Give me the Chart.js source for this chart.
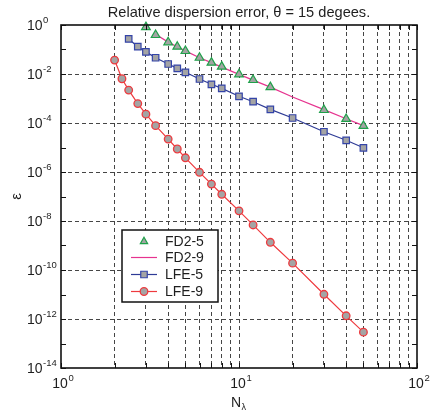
<!DOCTYPE html>
<html>
<head>
<meta charset="utf-8">
<title>Relative dispersion error</title>
<script src="https://cdn.jsdelivr.net/npm/chart.js@4.4.0/dist/chart.umd.min.js"></script>
<style>
    html, body { margin: 0; padding: 0; background: #fff; }
    #errChart { display: block; }
</style>
</head>
<body>
<canvas id="errChart" width="433" height="415"></canvas>
<script>
// Points per wavelength and dispersion error for each scheme
const nFD25 = [3, 3.4, 4, 4.5, 5, 6, 7, 8, 10, 12, 15, 30, 40, 50];
const errFD25 = [0.82, 0.39, 0.197, 0.13, 0.087, 0.046, 0.029, 0.02, 0.0097, 0.0057, 0.0029, 3.4e-4, 1.46e-4, 7.6e-5];

const nFD29 = [3.4, 4, 4.5, 5, 6, 7, 8, 10, 12, 15, 20, 30, 40, 50];
const errFD29 = [0.42, 0.2, 0.13, 0.088, 0.046, 0.029, 0.019, 0.0097, 0.0056, 0.0029, 1.15e-3, 3.5e-4, 1.5e-4, 7.8e-5];

const nLFE5 = [2.4, 2.7, 3, 3.4, 4, 4.5, 5, 6, 7, 8, 10, 12, 15, 20, 30, 40, 50];
const errLFE5 = [0.27, 0.13, 0.08, 0.046, 0.0256, 0.017, 0.0117, 0.00625, 0.0038, 0.0026, 0.00123, 7.4e-4, 3.6e-4, 1.6e-4, 4.4e-5, 1.97e-5, 9.7e-6];

const nLFE9 = [2, 2.2, 2.4, 2.7, 3, 3.4, 4, 4.5, 5, 6, 7, 8, 10, 12, 15, 20, 30, 40, 50];
const errLFE9 = [0.037, 0.0064, 0.0022, 6.2e-4, 2.3e-4, 7.8e-5, 2.2e-5, 8.7e-6, 3.8e-6, 9.7e-7, 3.2e-7, 1.23e-7, 2.6e-8, 6.9e-9, 1.35e-9, 1.9e-10, 1.02e-11, 1.35e-12, 2.9e-13];

const xTickVals = [1, 2, 3, 4, 5, 6, 7, 8, 9, 10, 20, 30, 40, 50, 60, 70, 80, 90, 100];
const yExponents = [0, -1, -2, -3, -4, -5, -6, -7, -8, -9, -10, -11, -12, -13, -14];
const yLabelExps = [0, -2, -4, -6, -8, -10, -12, -14];
const xLabelExps = [0, 1, 2];

const titleText = 'Relative dispersion error, \u03B8 = 15 degees.';
const FONT = '"Liberation Sans", Arial, Helvetica, sans-serif';
const GRAY_FILL = '#a4a4a4';
const TEXT_COLOR = '#1e1e1e';

function pairs(xs, ys) {
    return xs.map((x, i) => ({ x: x, y: ys[i] }));
}

const datasets = [
    {
        label: 'FD2-5',
        data: pairs(nFD25, errFD25),
        showLine: false,
        pointStyle: 'triangle',
        pointRadius: 5,
        pointBorderWidth: 1.2,
        borderColor: '#1fa14a',
        pointBorderColor: '#1fa14a',
        pointBackgroundColor: GRAY_FILL,
        clip: false
    },
    {
        label: 'FD2-9',
        data: pairs(nFD29, errFD29),
        borderColor: '#e6338f',
        borderWidth: 1.2,
        pointRadius: 0,
        clip: false
    },
    {
        label: 'LFE-5',
        data: pairs(nLFE5, errLFE5),
        borderColor: '#2e3b96',
        borderWidth: 1.2,
        pointStyle: 'rect',
        pointRadius: 4.6,
        pointBorderWidth: 1.2,
        pointBorderColor: '#3444a8',
        pointBackgroundColor: GRAY_FILL,
        clip: false
    },
    {
        label: 'LFE-9',
        data: pairs(nLFE9, errLFE9),
        borderColor: '#ee3a3e',
        borderWidth: 1.2,
        pointStyle: 'circle',
        pointRadius: 3.8,
        pointBorderWidth: 1.3,
        pointBorderColor: '#ee3a3e',
        pointBackgroundColor: GRAY_FILL,
        clip: false
    }
];

// "10" with a raised exponent, left edge at x
function drawPow(ctx, exp, x, baseline) {
    ctx.textAlign = 'left';
    ctx.textBaseline = 'alphabetic';
    ctx.font = '14px ' + FONT;
    const w = ctx.measureText('10').width;
    ctx.fillText('10', x, baseline);
    ctx.font = '9.5px ' + FONT;
    ctx.fillText(String(exp), x + w + 0.5, baseline - 7);
    return w;
}

function powWidth(ctx, exp) {
    ctx.font = '14px ' + FONT;
    const w = ctx.measureText('10').width;
    ctx.font = '9.5px ' + FONT;
    return w + 0.5 + ctx.measureText(String(exp)).width;
}

const decorPlugin = {
    id: 'decor',
    afterDatasetsDraw(chart) {
        const ctx = chart.ctx;
        const area = chart.chartArea;
        const xs = chart.scales.x;
        const ys = chart.scales.y;
        ctx.save();

        // frame with inward ticks
        ctx.strokeStyle = '#111';
        ctx.lineWidth = 1;
        ctx.beginPath();
        xTickVals.forEach(v => {
            const px = Math.round(xs.getPixelForValue(v)) + 0.5;
            ctx.moveTo(px, area.bottom);
            ctx.lineTo(px, area.bottom - 5);
            ctx.moveTo(px, area.top);
            ctx.lineTo(px, area.top + 5);
        });
        yExponents.forEach(e => {
            const py = Math.round(ys.getPixelForValue(Math.pow(10, e))) + 0.5;
            ctx.moveTo(area.left, py);
            ctx.lineTo(area.left + 5, py);
            ctx.moveTo(area.right, py);
            ctx.lineTo(area.right - 5, py);
        });
        ctx.stroke();
        ctx.lineWidth = 1.6;
        ctx.strokeRect(area.left, area.top, area.right - area.left, area.bottom - area.top);

        // tick labels
        ctx.fillStyle = TEXT_COLOR;
        yLabelExps.forEach(e => {
            const py = ys.getPixelForValue(Math.pow(10, e));
            drawPow(ctx, e, 27, py + 5);
        });
        xLabelExps.forEach(e => {
            const px = xs.getPixelForValue(Math.pow(10, e));
            const w = powWidth(ctx, e);
            drawPow(ctx, e, px - w / 2 + 2, 388);
        });

        // axis titles
        const cx = (area.left + area.right) / 2;
        ctx.font = '14px ' + FONT;
        ctx.textAlign = 'left';
        const nW = ctx.measureText('N').width;
        ctx.fillText('N', cx - nW / 2 - 3, 407);
        ctx.font = '9px ' + FONT;
        ctx.fillText('\u03BB', cx + nW / 2 - 2.5, 410);

        ctx.save();
        ctx.translate(17, (area.top + area.bottom) / 2);
        ctx.rotate(-Math.PI / 2);
        ctx.font = '15px ' + FONT;
        ctx.textAlign = 'center';
        ctx.textBaseline = 'middle';
        ctx.fillText('\u03B5', 0, 0);
        ctx.restore();

        // title
        ctx.font = '14.6px ' + FONT;
        ctx.textAlign = 'center';
        ctx.textBaseline = 'alphabetic';
        ctx.fillText(titleText, cx, 17);

        // legend box
        const bx = 122, by = 230, bw = 96, bh = 72;
        ctx.fillStyle = '#fff';
        ctx.fillRect(bx, by, bw, bh);
        ctx.strokeStyle = '#111';
        ctx.lineWidth = 1.5;
        ctx.strokeRect(bx, by, bw, bh);
        const rows = [241.5, 257.5, 274.5, 291.5];
        chart.data.datasets.forEach((ds, i) => {
            const y = rows[i];
            if (ds.showLine !== false) {
                ctx.strokeStyle = ds.borderColor;
                ctx.lineWidth = ds.borderWidth;
                ctx.beginPath();
                ctx.moveTo(131, y);
                ctx.lineTo(157, y);
                ctx.stroke();
            }
            if (ds.pointRadius > 0) {
                ctx.fillStyle = ds.pointBackgroundColor;
                ctx.strokeStyle = ds.pointBorderColor;
                ctx.lineWidth = ds.pointBorderWidth;
                Chart.helpers.drawPoint(ctx, {
                    pointStyle: ds.pointStyle,
                    radius: ds.pointStyle === 'triangle' ? 4.2 : ds.pointRadius,
                    borderWidth: ds.pointBorderWidth,
                    rotation: 0
                }, 144, y);
            }
            ctx.fillStyle = TEXT_COLOR;
            ctx.font = '14px ' + FONT;
            ctx.textAlign = 'left';
            ctx.textBaseline = 'middle';
            ctx.fillText(ds.label, 165, y + 1);
        });

        ctx.restore();
    }
};

new Chart(document.getElementById('errChart'), {
    type: 'line',
    data: { datasets: datasets },
    options: {
        responsive: false,
        animation: false,
        events: [],
        layout: { padding: { left: 61, right: 16, top: 25, bottom: 47 } },
        plugins: {
            legend: { display: false },
            title: { display: false },
            tooltip: { enabled: false }
        },
        elements: { line: { tension: 0 } },
        scales: {
            x: {
                type: 'logarithmic',
                min: 1,
                max: 100,
                afterBuildTicks: scale => {
                    scale.ticks = xTickVals.map(v => ({ value: v }));
                },
                ticks: { display: false },
                grid: {
                    drawTicks: false,
                    lineWidth: 1,
                    color: c => (c.tick && (c.tick.value === 1 || c.tick.value === 100)) ? 'rgba(0,0,0,0)' : '#454545'
                },
                border: { display: false, dash: [4, 3] }
            },
            y: {
                type: 'logarithmic',
                min: 1e-14,
                max: 1,
                afterBuildTicks: scale => {
                    scale.ticks = yExponents.map(e => ({ value: Math.pow(10, e) }));
                },
                ticks: { display: false },
                grid: {
                    drawTicks: false,
                    lineWidth: 1,
                    color: c => {
                        if (!c.tick) return 'rgba(0,0,0,0)';
                        const e = Math.round(Math.log10(c.tick.value));
                        return (e % 2 === 0 && e !== 0 && e !== -14) ? '#454545' : 'rgba(0,0,0,0)';
                    }
                },
                border: { display: false, dash: [4, 3] }
            }
        }
    },
    plugins: [decorPlugin]
});
</script>
</body>
</html>
